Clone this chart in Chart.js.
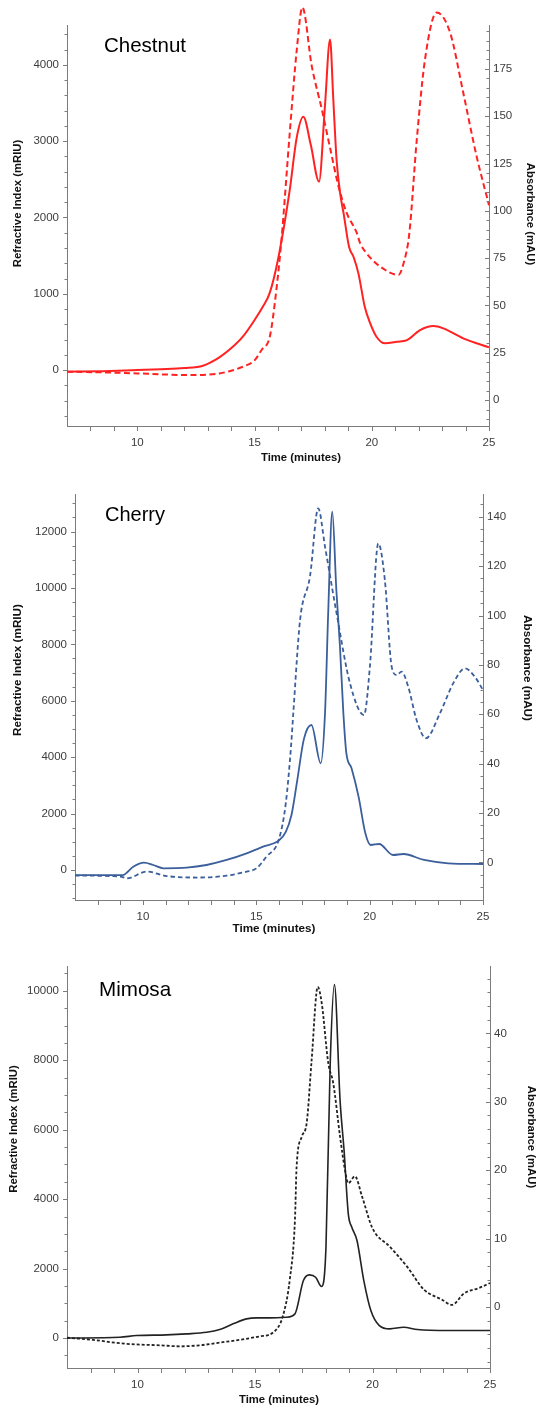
<!DOCTYPE html>
<html><head><meta charset="utf-8">
<script src="https://cdn.jsdelivr.net/npm/chart.js@4"></script>
<style>
html,body{margin:0;padding:0;background:#fff;}
#wrap{position:relative;width:540px;height:1410px;overflow:hidden;background:#fff;}
canvas{position:absolute;left:0;}
</style></head><body>
<div id="wrap">
<canvas id="c1" width="540" height="470" style="top:0px"></canvas>
<canvas id="c2" width="540" height="470" style="top:470px"></canvas>
<canvas id="c3" width="540" height="470" style="top:940px"></canvas>
</div>
<script>
// ---------- shared ----------
const X_TITLE = 'Time (minutes)';
const LEFT_TITLE = 'Refractive Index (mRIU)';
const RIGHT_TITLE = 'Absorbance (mAU)';
const X_TICKS = [10, 15, 20, 25];

// ---------- Chestnut ----------
const CHESTNUT_RI_T = [7, 8.5, 10, 11, 12, 12.8, 13.5, 14, 14.5, 15, 15.35, 15.64, 16, 16.5, 16.8, 17.08, 17.4, 17.75, 18.0, 18.22, 18.36, 18.5, 18.65, 18.8, 19.03, 19.22, 19.43, 19.7, 19.93, 20.2, 20.57, 21.07, 21.5, 22.06, 22.63, 23.05, 23.9, 25];
const CHESTNUT_RI = [-22, -15, 0, 10, 25, 57, 166, 284, 437, 655, 830, 1005, 1450, 2360, 3050, 3320, 2950, 2470, 3450, 4334, 3540, 2750, 2320, 2050, 1616, 1485, 1267, 830, 615, 437, 350, 370, 393, 524, 577, 546, 415, 297];
const CHESTNUT_ABS_T = [7, 9, 10, 11, 12.2, 13, 13.5, 14, 14.5, 15, 15.3, 15.65, 15.9, 16.15, 16.5, 16.8, 17.04, 17.44, 17.87, 18.22, 18.58, 18.93, 19.36, 19.5, 19.75, 20.35, 21.14, 21.35, 21.6, 21.92, 22.27, 22.77, 23.34, 23.9, 24.47, 25];
const CHESTNUT_ABS = [15, 14.5, 14.1, 13.6, 13.2, 13.5, 14.1, 15.5, 17.6, 21, 26.5, 33.5, 55, 85, 141, 185, 207.5, 176.5, 153.6, 133.3, 113, 98.9, 88.3, 83, 78, 70.6, 66.2, 72, 88, 137.7, 180, 204.8, 194.2, 162.5, 128.9, 103];
const CHESTNUT_RI_TICKS = [0, 1000, 2000, 3000, 4000];
const CHESTNUT_ABS_TICKS = [0, 25, 50, 75, 100, 125, 150, 175];

// ---------- Cherry ----------
const CHERRY_RI_T = [7, 9.1, 9.57, 10.04, 10.45, 10.9, 11.93, 12.8, 13.69, 14.57, 15.3, 16.0, 16.3, 16.55, 16.8, 17.1, 17.43, 17.84, 18.03, 18.17, 18.35, 18.53, 18.69, 18.84, 18.97, 19.2, 19.51, 19.81, 20.04, 20.42, 21.03, 21.49, 22.4, 23.47, 25];
const CHERRY_RI = [-180, -180, 117, 260, 177, 60, 82, 177, 355, 592, 827, 1050, 1350, 1950, 3150, 4650, 5142, 3783, 5557, 9103, 12706, 9929, 7918, 5557, 4150, 3606, 2600, 1300, 887, 922, 532, 567, 355, 238, 213];
const CHERRY_ABS_T = [7, 9.0, 9.3, 10.16, 11.04, 12.5, 13.7, 14.57, 15.0, 15.44, 16.0, 16.3, 16.53, 16.63, 16.93, 17.37, 17.73, 18.03, 18.54, 19.13, 19.75, 20.01, 20.38, 20.67, 20.97, 21.19, 21.41, 21.7, 22.07, 22.48, 23.1, 23.69, 24.2, 24.64, 25];
const CHERRY_ABS = [-5.3, -5.7, -6.4, -3.7, -5.5, -6.1, -5.3, -3.7, -2.4, 2.3, 9.5, 24, 46.9, 60.4, 98.2, 116, 143.4, 127.9, 100.9, 72.6, 59.7, 79.3, 129.2, 114.4, 79.3, 75.9, 77.3, 71.2, 57.7, 50.3, 60.4, 72.6, 78.6, 75.2, 69.8];
const CHERRY_RI_TICKS = [0, 2000, 4000, 6000, 8000, 10000, 12000];
const CHERRY_ABS_TICKS = [0, 20, 40, 60, 80, 100, 120, 140];

// ---------- Mimosa ----------
const MIMOSA_RI_T = [7, 9.25, 9.96, 11.23, 12.09, 12.94, 13.5, 14.07, 14.64, 15.07, 15.64, 16.33, 16.7, 17.06, 17.31, 17.58, 17.83, 18.02, 18.2, 18.38, 18.62, 18.79, 18.97, 19.12, 19.34, 19.63, 19.93, 20.29, 20.74, 21.32, 21.91, 23.23, 25];
const MIMOSA_RI = [0, 23, 72, 92, 121, 167, 245, 409, 553, 582, 582, 600, 697, 1657, 1821, 1752, 1484, 2617, 7903, 10179, 6845, 5404, 3579, 3193, 2810, 1657, 793, 360, 265, 311, 245, 216, 216];
const MIMOSA_ABS_T = [7, 8.1, 9.25, 10.1, 10.95, 11.8, 12.65, 13.5, 14.36, 15.2, 15.74, 16.18, 16.48, 16.7, 16.77, 16.99, 17.2, 17.41, 17.67, 17.84, 18.12, 18.33, 18.62, 18.83, 18.97, 19.25, 19.56, 20.0, 20.74, 21.47, 22.2, 22.94, 23.38, 23.9, 24.55, 25];
const MIMOSA_ABS = [-4.5, -4.8, -5.3, -5.5, -5.6, -5.75, -5.6, -5.2, -4.8, -4.3, -3.8, -1.4, 4.0, 12.7, 20.5, 24.9, 26.9, 36.1, 46.8, 44.4, 35.6, 32.7, 24.9, 20.0, 18.1, 19.1, 16.1, 11.5, 8.8, 5.9, 2.5, 1.1, 0.3, 2.0, 2.8, 3.5];
const MIMOSA_RI_TICKS = [0, 2000, 4000, 6000, 8000, 10000];
const MIMOSA_ABS_TICKS = [0, 10, 20, 30, 40];

// ---------- drawing ----------
const FONT = "'Liberation Sans', Arial, Helvetica, sans-serif";
const AXIS_COLOR = '#7c7c7c';
const TICK_COLOR = '#3c3c3c';

function pts(T, V) { return T.map((t, i) => ({x: t, y: V[i]})); }
const plain = v => String(v);

function makeChart(id, s) {
  const el = document.getElementById(id);
  const W = el.width, H = el.height, a0 = s.area;
  const tickFont = {family: FONT, size: s.tickSize};
  const grid = {display: true, drawOnChartArea: false, drawTicks: false};
  const border = {display: true, color: AXIS_COLOR, width: 1};
  const setTicks = arr => sc => { sc.ticks = arr.map(v => ({value: v})); };

  const decor = {
    id: 'decor_' + id,
    afterDraw(chart) {
      const {ctx, chartArea: a, scales} = chart;
      ctx.save();
      ctx.strokeStyle = AXIS_COLOR;
      ctx.lineWidth = 1;
      ctx.beginPath();
      const each = (sc, step, fn) => {
        const k0 = Math.ceil(sc.min / step - 1e-9), k1 = Math.floor(sc.max / step + 1e-9);
        for (let k = k0; k <= k1; k++) fn(k * step);
      };
      const isMajor = (v, arr) => arr.some(m => Math.abs(m - v) < 1e-6);
      each(scales.x, 1, v => {
        if (Math.abs(v - scales.x.min) < 1e-6) return;
        const p = Math.round(scales.x.getPixelForValue(v)) + 0.5;
        ctx.moveTo(p, a.bottom); ctx.lineTo(p, a.bottom + 5);
      });
      each(scales.yL, s.riMinor, v => {
        const p = Math.round(scales.yL.getPixelForValue(v)) + 0.5;
        ctx.moveTo(a.left, p); ctx.lineTo(a.left - (isMajor(v, s.riTicks) ? 4 : 2.5), p);
      });
      each(scales.yR, s.abMinor, v => {
        const p = Math.round(scales.yR.getPixelForValue(v)) + 0.5;
        ctx.moveTo(a.right, p); ctx.lineTo(a.right - (isMajor(v, s.abTicks) ? 4 : 2.5), p);
      });
      ctx.stroke();

      // axis titles
      ctx.fillStyle = '#111';
      ctx.textAlign = 'center';
      ctx.textBaseline = 'middle';
      ctx.font = 'bold ' + s.titleSize + 'px ' + FONT;
      ctx.fillText(X_TITLE, s.xTitle[0], s.xTitle[1]);
      ctx.save();
      ctx.translate(s.leftTitle[0], s.leftTitle[1]);
      ctx.rotate(-Math.PI / 2);
      ctx.fillText(LEFT_TITLE, 0, 0);
      ctx.restore();
      ctx.save();
      ctx.translate(s.rightTitle[0], s.rightTitle[1]);
      ctx.rotate(Math.PI / 2);
      ctx.fillText(RIGHT_TITLE, 0, 0);
      ctx.restore();

      // sample name
      ctx.fillStyle = '#000';
      ctx.textAlign = 'left';
      ctx.font = s.nameSize + 'px ' + FONT;
      ctx.fillText(s.name, s.namePos[0], s.namePos[1]);
      ctx.restore();
    }
  };

  return new Chart(el, {
    type: 'line',
    data: {
      datasets: [
        {label: 'Refractive Index', data: pts(s.riT, s.ri), yAxisID: 'yL',
         borderColor: s.color, borderWidth: s.solidWidth, pointRadius: 0,
         cubicInterpolationMode: 'monotone', fill: false},
        {label: 'Absorbance', data: pts(s.abT, s.ab), yAxisID: 'yR',
         borderColor: s.color, borderWidth: s.dashWidth, borderDash: s.dash, pointRadius: 0,
         cubicInterpolationMode: 'monotone', fill: false, clip: false}
      ]
    },
    options: {
      responsive: false, animation: false, devicePixelRatio: 1, events: [],
      layout: {padding: {top: a0.top, left: 0, right: 0, bottom: 0}},
      plugins: {legend: {display: false}, tooltip: {enabled: false}, title: {display: false}},
      scales: {
        x: {type: 'linear', position: 'bottom', min: 7, max: 25, grid, border,
            ticks: {color: TICK_COLOR, font: tickFont, padding: s.xPad, maxRotation: 0, autoSkip: false, callback: plain},
            afterBuildTicks: setTicks(X_TICKS),
            afterFit: sc => { sc.height = H - a0.bottom; }},
        yL: {type: 'linear', position: 'left', min: s.riMin, max: s.riMax, grid, border,
            ticks: {color: TICK_COLOR, font: tickFont, padding: 8, autoSkip: false, callback: plain},
            afterBuildTicks: setTicks(s.riTicks),
            afterFit: sc => { sc.width = a0.left; }},
        yR: {type: 'linear', position: 'right', min: s.abMin, max: s.abMax, grid, border,
            ticks: {color: TICK_COLOR, font: tickFont, padding: 4, autoSkip: false, callback: plain},
            afterBuildTicks: setTicks(s.abTicks),
            afterFit: sc => { sc.width = W - a0.right; }}
      }
    },
    plugins: [decor]
  });
}

makeChart('c1', {
  name: 'Chestnut', namePos: [104, 46], nameSize: 20.5,
  area: {left: 67, right: 489, top: 25, bottom: 426},
  color: '#ff2222', solidWidth: 2, dashWidth: 2, dash: [6, 3.5],
  riT: CHESTNUT_RI_T, ri: CHESTNUT_RI, abT: CHESTNUT_ABS_T, ab: CHESTNUT_ABS,
  riMin: -734, riMax: 4524, riTicks: CHESTNUT_RI_TICKS, riMinor: 200,
  abMin: -13.7, abMax: 198.2, abTicks: CHESTNUT_ABS_TICKS, abMinor: 5,
  tickSize: 11.5, titleSize: 11.3, xPad: 9.5,
  xTitle: [301, 458], leftTitle: [17.5, 203.5], rightTitle: [530, 214]
});

makeChart('c2', {
  name: 'Cherry', namePos: [105, 45], nameSize: 20,
  area: {left: 75, right: 483, top: 24, bottom: 430},
  color: '#3b5f9b', solidWidth: 1.8, dashWidth: 1.8, dash: [4.5, 3],
  riT: CHERRY_RI_T, ri: CHERRY_RI, abT: CHERRY_ABS_T, ab: CHERRY_ABS,
  riMin: -1064, riMax: 13333, riTicks: CHERRY_RI_TICKS, riMinor: 500,
  abMin: -15.2, abMax: 149.2, abTicks: CHERRY_ABS_TICKS, abMinor: 5,
  tickSize: 11.5, titleSize: 11.7, xPad: 9.5,
  xTitle: [274, 459], leftTitle: [18, 200], rightTitle: [527, 198]
});

makeChart('c3', {
  name: 'Mimosa', namePos: [99, 50], nameSize: 20.6,
  area: {left: 67, right: 490, top: 26, bottom: 428},
  color: '#222222', solidWidth: 1.6, dashWidth: 1.8, dash: [3, 2],
  riT: MIMOSA_RI_T, ri: MIMOSA_RI, abT: MIMOSA_ABS_T, ab: MIMOSA_ABS,
  riMin: -862, riMax: 10715, riTicks: MIMOSA_RI_TICKS, riMinor: 500,
  abMin: -8.92, abMax: 49.85, abTicks: MIMOSA_ABS_TICKS, abMinor: 2,
  tickSize: 11.5, titleSize: 11.3, xPad: 9.5,
  xTitle: [279, 460], leftTitle: [14, 189], rightTitle: [531, 197]
});
</script>
</body></html>
